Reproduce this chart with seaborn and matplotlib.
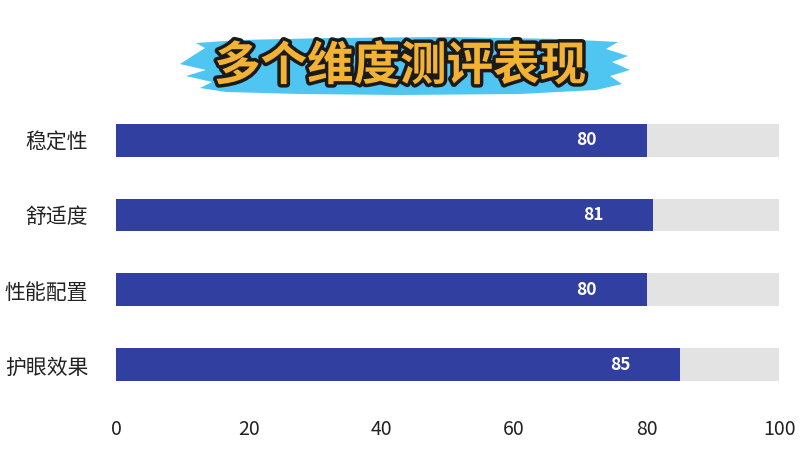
import matplotlib
matplotlib.use("Agg")
import matplotlib.pyplot as plt
import matplotlib.patheffects as pe
from matplotlib.patches import Polygon
import pandas as pd
import seaborn as sns

# data
categories = ["稳定性", "舒适度", "性能配置", "护眼效果"]
scores = [80, 81, 80, 85]
full_scale = [100, 100, 100, 100]
x_ticks = [0, 20, 40, 60, 80, 100]
title = "多个维度测评表现"

sns.set_style("white")
plt.rcParams["font.family"] = ["Noto Sans CJK SC", "DejaVu Sans"]

df = pd.DataFrame({"category": categories, "score": scores, "full": full_scale})

fig = plt.figure(figsize=(8, 4.5), dpi=100)
ax = fig.add_axes([0.145, 0.1056, 0.829, 0.6666])

sns.barplot(data=df, x="full", y="category", color="#e3e3e3", width=0.44,
            saturation=1, linewidth=0, ax=ax)
sns.barplot(data=df, x="score", y="category", color="#3140a0", width=0.44,
            saturation=1, linewidth=0, ax=ax)

for i, v in enumerate(scores):
    ax.text(v - 9, i, str(v), color="white", fontsize=12.5, fontweight="bold",
            ha="center", va="center")

ax.set_xlim(0, 100)
ax.set_ylim(3.5, -0.5)
ax.set_xticks(x_ticks)
ax.set_xticklabels([str(t) for t in x_ticks], fontsize=14, color="#222222")
ax.tick_params(axis="y", labelsize=15, labelcolor="#222222", length=0, pad=20)
ax.tick_params(axis="x", length=0, pad=12)
ax.set_xlabel("")
ax.set_ylabel("")
for s in ax.spines.values():
    s.set_visible(False)

# brush-stroke banner behind the title (figure pixel space)
W, H = 800, 450
brush = [(180, 64), (205, 48), (196, 43), (240, 40), (330, 38), (450, 37),
         (560, 39), (618, 42), (606, 49), (628, 56), (612, 62), (630, 70),
         (610, 76), (622, 84), (596, 90), (520, 94), (400, 95), (300, 94),
         (226, 92), (200, 88), (212, 82), (186, 76), (206, 70)]
fig.patches.append(Polygon([(x / W, 1 - y / H) for x, y in brush], closed=True,
                           transform=fig.transFigure, facecolor="#4fc6f2",
                           edgecolor="none", zorder=0))
fig.text(0.5, 1 - 66 / H, title, ha="center", va="center", fontsize=33.5,
         fontweight="bold", color="#f2b233", zorder=2,
         path_effects=[pe.withStroke(linewidth=5, foreground="#1a1a1a")])

fig.savefig("out.png", dpi=100)
